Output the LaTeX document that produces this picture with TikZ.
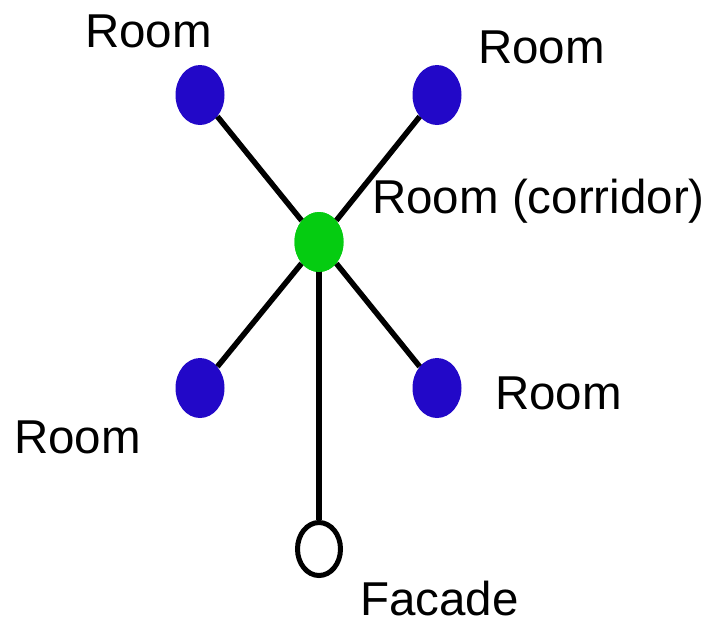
\documentclass[tikz,border=0pt]{standalone}
\usepackage{fontspec}
\setmainfont{Liberation Sans}
\usetikzlibrary{shapes.geometric}
\definecolor{roomblue}{HTML}{2208C8}
\definecolor{corrgreen}{HTML}{05CC11}
\begin{document}
\begin{tikzpicture}[x=1pt,y=-1pt,
  room/.style={ellipse, fill=roomblue, minimum width=49pt, minimum height=60pt, inner sep=0pt},
  hub/.style={ellipse, fill=corrgreen, minimum width=49pt, minimum height=60pt, inner sep=0pt},
  facade/.style={ellipse, draw=black, line width=5pt, fill=white, minimum width=43pt, minimum height=53pt, inner sep=0pt},
  lbl/.style={anchor=base west, inner sep=0pt, font=\fontsize{47.5}{57}\selectfont},
  edge/.style={line width=5.5pt, black}]
\useasboundingbox (0,0) rectangle (711,622);
\node[hub] (c) at (319,242) {};
\node[room] (tl) at (200,95) {};
\node[room] (tr) at (437,95) {};
\node[room] (bl) at (200,388) {};
\node[room] (br) at (437,388) {};
\node[facade] (f) at (319,549) {};
\draw[edge] (c) -- (tl);
\draw[edge] (c) -- (tr);
\draw[edge] (c) -- (bl);
\draw[edge] (c) -- (br);
\draw[edge] (c.center) -- (f.north);
\node[hub] at (c) {};
\node[lbl] (ltl) at (85,47) {Room};
\node[lbl] (ltr) at (478,63) {Room};
\node[lbl] (lc) at (372,213) {Room (corridor)};
\node[lbl] (lbr) at (495,409) {Room};
\node[lbl] (lbl) at (14,453) {Room};
\node[lbl] (lf) at (360,615) {Facade};
\end{tikzpicture}
\end{document}
